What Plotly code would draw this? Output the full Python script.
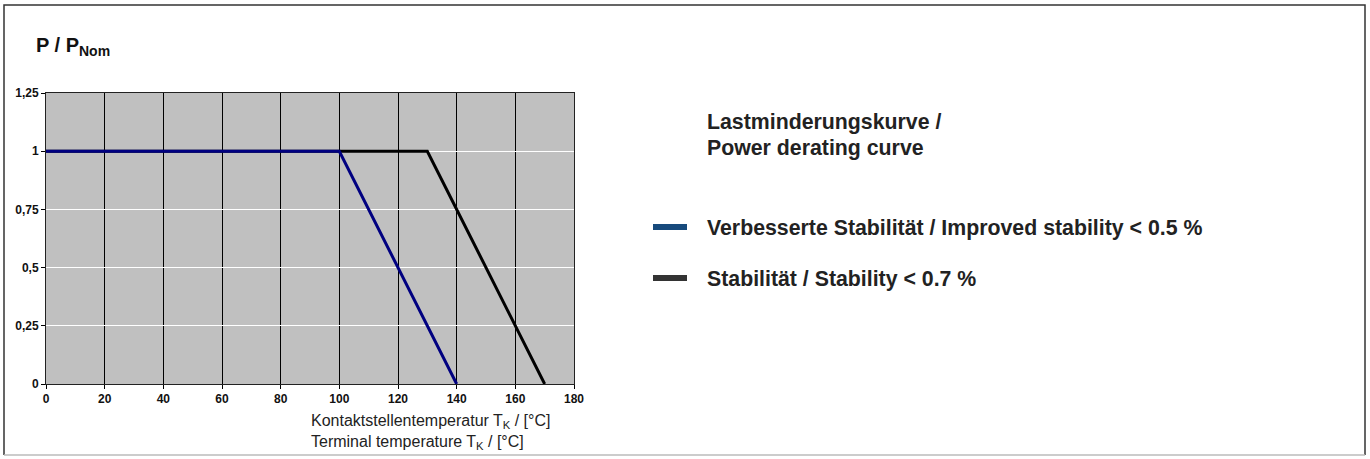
import plotly.graph_objects as go

# ---- data ----
temp_improved = [0, 100, 140]
power_improved = [1, 1, 0]
temp_standard = [0, 130, 170]
power_standard = [1, 1, 0]
x_ticks = [0, 20, 40, 60, 80, 100, 120, 140, 160, 180]
y_ticks = [0, 0.25, 0.5, 0.75, 1, 1.25]
y_ticklabels = ["0", "0,25", "0,5", "0,75", "1", "1,25"]
series_names = ["Verbesserte Stabilität / Improved stability < 0.5 %",
                "Stabilität / Stability < 0.7 %"]

W, H = 1370, 459
L, R, T, B = 46, 574, 93, 384  # plot area in pixels
pw, ph = R - L, B - T


def px(x):
    return (x - L) / pw


def py(y):
    return (B - y) / ph


FONT = "Liberation Sans, Arial, sans-serif"

fig = go.Figure()
fig.add_trace(go.Scatter(x=temp_standard, y=power_standard, mode="lines",
                         line=dict(color="#000000", width=3), name=series_names[1],
                         showlegend=False))
fig.add_trace(go.Scatter(x=temp_improved, y=power_improved, mode="lines",
                         line=dict(color="#000080", width=3), name=series_names[0],
                         showlegend=False))

fig.update_layout(
    width=W, height=H,
    margin=dict(l=L, r=W - R, t=T, b=H - B, autoexpand=False),
    paper_bgcolor="white",
    plot_bgcolor="#C0C0C0",
    font=dict(family=FONT, color="#111"),
    xaxis=dict(range=[0, 180], tickvals=x_ticks, showgrid=True, gridcolor="#000000",
               gridwidth=1, ticks="outside", ticklen=4, tickcolor="#000",
               showline=True, linecolor="#222", linewidth=1, mirror=True,
               automargin=False,
               tickfont=dict(family=FONT, size=12, color="#111", weight="bold"),
               zeroline=False),
    yaxis=dict(range=[0, 1.25], tickvals=y_ticks, ticktext=y_ticklabels,
               showgrid=True, gridcolor="#FFFFFF", gridwidth=1, ticks="outside",
               ticklen=4, tickcolor="#000", showline=True, linecolor="#222",
               linewidth=1, mirror=True, automargin=False,
               tickfont=dict(family=FONT, size=12, color="#111", weight="bold"),
               zeroline=False),
)

annotations = [
    dict(x=px(34), y=py(47), text="<b>P / P<sub>Nom</sub></b>", showarrow=False,
         xanchor="left", yanchor="middle", font=dict(size=20, family=FONT, color="#111")),
    dict(x=px(309), y=py(421), text="Kontaktstellentemperatur T<sub>K</sub> / [°C]",
         showarrow=False, xanchor="left", yanchor="middle",
         font=dict(size=16, family=FONT, color="#222")),
    dict(x=px(309), y=py(442), text="Terminal temperature T<sub>K</sub> / [°C]",
         showarrow=False, xanchor="left", yanchor="middle",
         font=dict(size=16, family=FONT, color="#222")),
    dict(x=px(705), y=py(122), text="<b>Lastminderungskurve /</b>", showarrow=False,
         xanchor="left", yanchor="middle", font=dict(size=21.3, family=FONT, color="#222")),
    dict(x=px(705), y=py(148), text="<b>Power derating curve</b>", showarrow=False,
         xanchor="left", yanchor="middle", font=dict(size=21.3, family=FONT, color="#222")),
    dict(x=px(705), y=py(228), text="<b>" + series_names[0] + "</b>", showarrow=False,
         xanchor="left", yanchor="middle", font=dict(size=21.3, family=FONT, color="#222")),
    dict(x=px(705), y=py(279), text="<b>" + series_names[1] + "</b>", showarrow=False,
         xanchor="left", yanchor="middle", font=dict(size=21.3, family=FONT, color="#222")),
]
for a in annotations:
    a["xref"] = "paper"
    a["yref"] = "paper"
fig.update_layout(annotations=annotations)

shapes = [
    dict(type="line", xref="paper", yref="paper", x0=px(653), x1=px(687),
         y0=py(227), y1=py(227), line=dict(color="#174A7C", width=6)),
    dict(type="line", xref="paper", yref="paper", x0=px(653), x1=px(687),
         y0=py(278), y1=py(278), line=dict(color="#333333", width=6)),
    dict(type="line", xref="paper", yref="paper", x0=px(4), x1=px(1365),
         y0=py(455), y1=py(455), line=dict(color="#BBBBBB", width=1.5)),
    dict(type="path", xref="paper", yref="paper",
         path="M %f,%f L %f,%f L %f,%f L %f,%f" % (px(4), py(455), px(4), py(5),
                                                   px(1365), py(5), px(1365), py(455)),
         line=dict(color="#333333", width=1.5), layer="below"),
]
fig.update_layout(shapes=shapes)

fig.write_html("out.html",
               config={"displayModeBar": False},
               post_script="document.body.style.margin='0';document.body.style.overflow='hidden';")
